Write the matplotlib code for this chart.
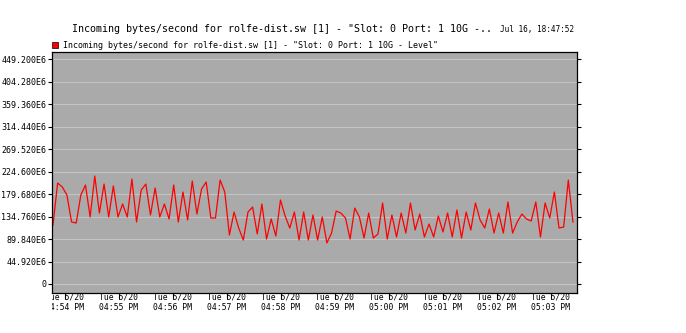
import matplotlib
matplotlib.use("Agg")
import matplotlib.pyplot as plt
import matplotlib.transforms as mtransforms
from matplotlib.patches import Patch
import pandas as pd

plt.rcParams["font.family"] = ["DejaVu Sans Mono"]

# texts
title = 'Incoming bytes/second for rolfe-dist.sw [1] - "Slot: 0 Port: 1 10G -..'
stamp = "Jul 16, 18:47:52"
series_label = 'Incoming bytes/second for rolfe-dist.sw [1] - "Slot: 0 Port: 1 10G - Level"'

# incoming rate, in units of 1E6 bytes/second
values = [
    117.8, 201.6, 193.7, 177.7, 123.8, 121.8, 177.7, 197.6, 133.8, 215.6,
    141.7, 199.6, 133.8, 195.6, 133.8, 159.7, 133.8, 209.6, 123.8, 187.7,
    199.6, 137.8, 191.7, 133.8, 159.7, 129.8, 197.6, 123.8, 183.7, 127.8,
    205.6, 139.7, 189.7, 203.6, 131.8, 131.8, 207.6, 183.7, 97.8, 143.7,
    111.8, 87.8, 143.7, 153.7, 99.8, 159.7, 89.8, 129.8, 95.8, 167.7,
    135.8, 111.8, 143.7, 87.8, 143.7, 87.8, 137.8, 87.8, 133.8, 81.9,
    101.8, 145.7, 141.7, 131.8, 89.8, 151.7, 133.8, 91.8, 141.7, 91.8,
    99.8, 161.7, 89.8, 137.8, 93.8, 141.7, 101.8, 161.7, 107.8, 139.7,
    93.8, 119.8, 93.8, 135.8, 103.8, 141.7, 93.8, 147.7, 91.8, 143.7,
    107.8, 161.7, 127.8, 111.8, 149.7, 101.8, 141.7, 101.8, 163.7, 101.8,
    123.8, 139.7, 129.8, 125.8, 163.7, 93.8, 161.7, 131.8, 183.7, 111.8,
    113.8, 207.6, 123.8,
]
first_sample = "2014-05-20 16:53:46.7"
last_sample = "2014-05-20 17:03:24.4"
view_start = "2014-05-20 16:53:45.6"
view_end = "2014-05-20 17:03:28.9"

y_ticks = [0, 44.92, 89.84, 134.76, 179.68, 224.6, 269.52, 314.44, 359.36, 404.28, 449.2]
y_range = (-17.97, 463.2)
tick_times = pd.date_range("2014-05-20 16:54", "2014-05-20 17:03", freq="1min")

fig = plt.figure(figsize=(6.86, 3.33), dpi=100)
ax = fig.add_axes([52 / 686, 1 - 293 / 333, 525 / 686, 241 / 333])

times = pd.date_range(first_sample, last_sample, periods=len(values))
ax.plot(times, values, color="#ff0000", lw=0.9)

ax.set_facecolor("#aaaaaa")
ax.set_xlim(pd.Timestamp(view_start), pd.Timestamp(view_end))
ax.set_ylim(*y_range)
ax.set_yticks(y_ticks)
ax.set_yticklabels(["0" if v == 0 else f"{v:.3f}E6" for v in y_ticks])
ax.yaxis.grid(True, color="#c4c4c4", lw=0.8)
ax.set_axisbelow(True)
ax.set_xticks(tick_times)
ax.set_xticklabels([f"{t:%a} {t.month}/{t.day}\n{t:%I:%M %p}" for t in tick_times],
                   linespacing=1.1)
for s in ax.spines.values():
    s.set_linewidth(0.9)

ax.tick_params(axis="y", direction="out", length=3, width=0.8, labelsize=6, pad=1, right=True)
ax.tick_params(axis="x", direction="out", length=4, width=0.8, labelsize=5.9, pad=-4)

# first time label is cut off at the left edge of the plot, as in the original
clip = mtransforms.TransformedBbox(mtransforms.Bbox([[0, -1], [3, 1]]), ax.transAxes)
for lab in ax.get_xticklabels():
    lab.set_clip_box(clip)
    lab.set_clip_on(True)

fig.text(72 / 686, 1 - 32 / 333, title, fontsize=7.2, va="baseline", ha="left")
fig.text(574 / 686, 1 - 32 / 333, stamp, fontsize=5.6, va="baseline", ha="right")

fig.legend(handles=[Patch(facecolor="#ff0000", edgecolor="#000000", lw=0.5, label=series_label)],
           loc="center left", bbox_to_anchor=(52 / 686, 1 - 45.5 / 333), frameon=False,
           fontsize=6.05, handlelength=0.75, handleheight=0.75, handletextpad=0.5,
           borderpad=0, borderaxespad=0)

fig.savefig("out.png", dpi=100)
